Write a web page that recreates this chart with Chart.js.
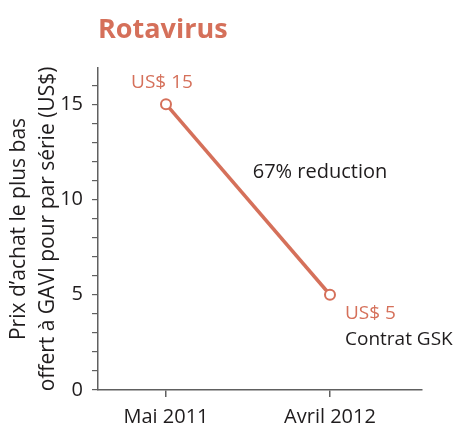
<!DOCTYPE html>
<html>
<head>
<meta charset="utf-8">
<script src="https://cdn.jsdelivr.net/npm/chart.js@4"></script>
<style>
  html, body { margin: 0; padding: 0; background: #fff; }
  #wrap { width: 456px; height: 424px; position: relative; }
</style>
</head>
<body>
<div id="wrap"><canvas id="c"></canvas></div>
<script>
const chartTitle = 'Rotavirus';
const categories = ['Mai 2011', 'Avril 2012'];
const categoryPositions = [0, 1];
const prices = [15, 5];
const priceLabels = ['US$ 15', 'US$ 5'];
const contractNote = 'Contrat GSK';
const reductionNote = '67% reduction';
const yTickValues = [0, 5, 10, 15];
const yTitle = ["Prix d\u2019achat le plus bas", 'offert \u00e0 GAVI pour par s\u00e9rie (US$)'];

const ORANGE = '#d5705a';
const AXIS = '#606060';
const TEXT = '#1f1c1d';
const FONT = "'Open Sans', sans-serif";

const annotations = {
  id: 'annotations',
  afterDraw(chart) {
    const ctx = chart.ctx;
    const xs = chart.scales.x, ys = chart.scales.y;
    ctx.save();
    // Title
    ctx.fillStyle = ORANGE;
    ctx.font = "bold 27px " + FONT;
    ctx.textAlign = 'left';
    ctx.textBaseline = 'alphabetic';
    ctx.fillText(chartTitle, chart.chartArea.left, 38);

    ctx.font = "19px " + FONT;
    ctx.textBaseline = 'middle';
    // US$ 15 above first point
    const p0x = xs.getPixelForValue(categoryPositions[0]);
    const p0y = ys.getPixelForValue(prices[0]);
    ctx.fillStyle = ORANGE;
    ctx.textAlign = 'center';
    ctx.fillText(priceLabels[0], p0x - 4, p0y - 22);
    // US$ 5 right-below second point
    const p1x = xs.getPixelForValue(categoryPositions[1]);
    const p1y = ys.getPixelForValue(prices[1]);
    ctx.textAlign = 'left';
    ctx.fillText(priceLabels[1], p1x + 15, p1y + 19);
    ctx.fillStyle = TEXT;
    ctx.fillText(contractNote, p1x + 15, p1y + 45);
    // reduction note
    ctx.font = "20px " + FONT;
    ctx.textAlign = 'center';
    const mx = (p0x + p1x) / 2 + 72;
    const my = (p0y + p1y) / 2 - 27;
    ctx.fillText(reductionNote, mx, my);
    ctx.restore();
  }
};

new Chart(document.getElementById('c'), {
  type: 'line',
  data: {
    datasets: [{
      data: categoryPositions.map((x, i) => ({ x: x, y: prices[i] })),
      borderColor: ORANGE,
      borderWidth: 3.5,
      pointRadius: 5,
      pointBorderWidth: 2,
      pointBackgroundColor: '#fff',
      pointBorderColor: ORANGE,
      tension: 0
    }]
  },
  options: {
    responsive: true,
    maintainAspectRatio: false,
    animation: false,
    layout: { padding: { top: 68, right: 34, left: 0, bottom: 0 } },
    plugins: { legend: { display: false }, tooltip: { enabled: false }, title: { display: false } },
    scales: {
      x: {
        type: 'linear',
        min: -0.4146,
        max: 1.561,
        afterBuildTicks(scale) { scale.ticks = categoryPositions.map(v => ({ value: v })); },
        afterFit(scale) { scale.height = 34; },
        border: { display: true, color: AXIS, width: 1.5 },
        grid: { display: true, drawOnChartArea: false, drawTicks: true, tickLength: 7, color: AXIS, lineWidth: 1.5 },
        ticks: {
          padding: 8,
          autoSkip: false,
          color: TEXT,
          font: { family: FONT, size: 20 },
          maxRotation: 0,
          callback(v) { const i = categoryPositions.indexOf(v); return i >= 0 ? categories[i] : ''; }
        }
      },
      y: {
        min: 0,
        max: 16.9,
        afterBuildTicks(scale) {
          const t = [];
          for (let v = 0; v <= 16; v++) t.push({ value: v });
          scale.ticks = t;
        },
        afterFit(scale) { scale.width = 98; },
        border: { display: true, color: AXIS, width: 1.5 },
        grid: { display: true, drawOnChartArea: false, drawTicks: true, tickLength: 6, color: AXIS, lineWidth: 1.2 },
        ticks: {
          padding: 9,
          autoSkip: false,
          color: TEXT,
          font: { family: FONT, size: 20 },
          callback(v) { return yTickValues.includes(v) ? String(v) : ''; }
        },
        title: {
          display: true,
          text: yTitle,
          color: TEXT,
          font: { family: FONT, size: 21, lineHeight: 1.38 },
          padding: { top: 4.5, bottom: 0 }
        }
      }
    }
  },
  plugins: [annotations]
});
</script>
</body>
</html>
